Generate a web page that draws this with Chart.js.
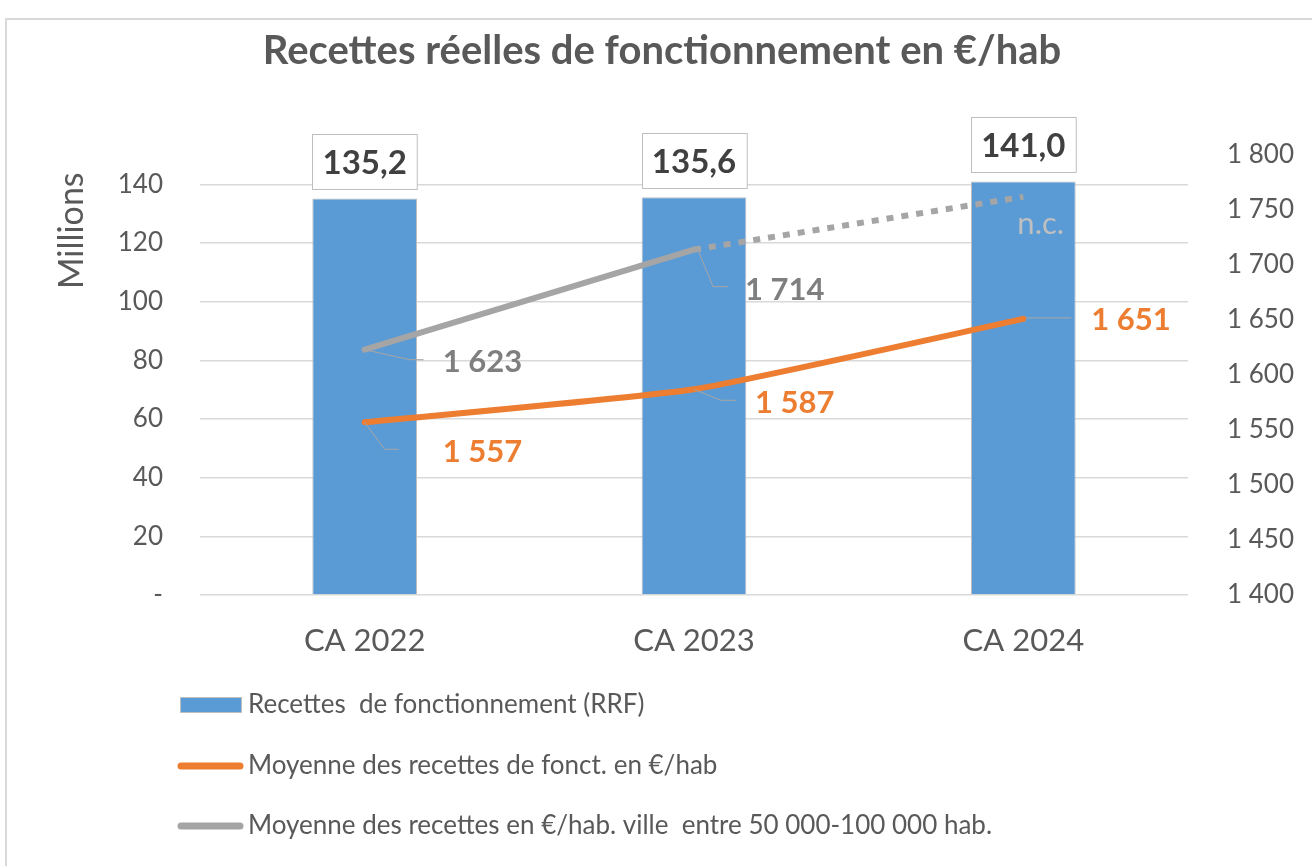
<!DOCTYPE html>
<html lang="fr">
<head>
<meta charset="UTF-8">
<title>Recettes réelles de fonctionnement en €/hab</title>
<script src="https://cdn.jsdelivr.net/npm/chart.js"></script>
<style>
    body { margin: 0; background: #fff; }
    #chart { display: block; }
</style>
</head>
<body>
<canvas id="chart" width="1312" height="866"></canvas>
<script>
// données
const categories = ['CA 2022', 'CA 2023', 'CA 2024'];
const recettes = [135.2, 135.6, 141.0];            // millions d'euros
const moyenneCommune = [1557, 1587, 1651];         // €/hab
const moyenneStrate = [1623, 1714, 1762];          // €/hab (2024 : n.c., point du tracé)
const communeLabels = ['1 557', '1 587', '1 651'];
const strateLabels = ['1 623', '1 714', 'n.c.'];
const leftAxis = { min: 0, max: 150, step: 20 };
const rightAxis = { min: 1400, max: 1800, step: 50 };

const FONT = 'Lato, "Open Sans", sans-serif';
const TEXT = '#595959';
const BLUE = '#5b9bd5', ORANGE = '#ed7d31', GREY = '#a5a5a5';

// position des étiquettes par rapport au point (dx, dy) + trait de rappel
const lineLabelStyle = {
    1: [
        { at: [78, 30], leader: [[0, 0], [20, 27], [34, 27]] },
        { at: [61, 14], leader: [[0, 0], [27, 11], [42, 11]] },
        { at: [68, 1], leader: [[3, -1], [48, -1]] }
    ],
    2: [
        { at: [78, 12], leader: [[0, 0], [45, 10], [59, 10]] },
        { at: [51, 40], leader: [[3, -2], [19, 37], [34, 37]] },
        { at: [-6, 27], leader: null, light: true }
    ]
};

function spaced(v) {
    return String(Math.round(v)).replace(/\B(?=(\d{3})+(?!\d))/g, ' ');
}

const frame = {
    id: 'frame',
    beforeDraw(chart) {
        const ctx = chart.ctx;
        ctx.save();
        ctx.fillStyle = '#fff';
        ctx.fillRect(0, 0, chart.width, chart.height);
        ctx.strokeStyle = '#d9d9d9';
        ctx.lineWidth = 2;
        ctx.strokeRect(6, 19, chart.width + 20, chart.height + 20);
        ctx.restore();
    }
};

const valueLabels = {
    id: 'valueLabels',
    afterDatasetsDraw(chart) {
        const ctx = chart.ctx;
        ctx.save();

        // étiquettes des barres dans un cadre
        chart.getDatasetMeta(0).data.forEach((bar, i) => {
            const w = bar.width, h = 55, bottom = bar.y - 9;
            const x0 = Math.round(bar.x - w / 2) + 0.5, y0 = Math.round(bottom - h) + 0.5;
            ctx.fillStyle = '#fff';
            ctx.fillRect(x0, y0, w, h);
            ctx.strokeStyle = '#bfbfbf';
            ctx.lineWidth = 1;
            ctx.strokeRect(x0, y0, w, h);
            ctx.font = 'bold 33px ' + FONT;
            ctx.fillStyle = '#404040';
            ctx.textAlign = 'center';
            ctx.textBaseline = 'middle';
            ctx.fillText(recettes[i].toFixed(1).replace('.', ','), bar.x, y0 + h / 2 + 1);
        });

        // étiquettes des courbes
        [1, 2].forEach(di => {
            const texts = di === 1 ? communeLabels : strateLabels;
            const color = di === 1 ? ORANGE : '#7f7f7f';
            chart.getDatasetMeta(di).data.forEach((pt, i) => {
                const st = lineLabelStyle[di][i];
                if (st.leader) {
                    ctx.strokeStyle = '#a6a6a6';
                    ctx.lineWidth = 1;
                    ctx.beginPath();
                    st.leader.forEach(([dx, dy], k) => {
                        if (k === 0) ctx.moveTo(pt.x + dx, pt.y + dy);
                        else ctx.lineTo(pt.x + dx, pt.y + dy);
                    });
                    ctx.stroke();
                }
                ctx.textAlign = 'left';
                ctx.textBaseline = 'middle';
                if (st.light) {
                    ctx.font = '31px ' + FONT;
                    ctx.fillStyle = '#bfbfbf';
                } else {
                    ctx.font = 'bold 31px ' + FONT;
                    ctx.fillStyle = color;
                }
                ctx.fillText(texts[i], pt.x + st.at[0], pt.y + st.at[1]);
            });
        });
        ctx.restore();
    }
};

// légende verticale sous le graphique
const stackedLegend = {
    id: 'stackedLegend',
    afterDraw(chart) {
        const ctx = chart.ctx;
        const rows = [705, 766, 826];
        ctx.save();
        chart.data.datasets.forEach((ds, i) => {
            const y = rows[i];
            if (ds.type === 'bar') {
                ctx.fillStyle = ds.backgroundColor;
                ctx.fillRect(180, y - 8, 62, 16);
                ctx.strokeStyle = '#bfbfbf';
                ctx.lineWidth = 1;
                ctx.strokeRect(180.5, y - 7.5, 61, 15);
            } else {
                ctx.strokeStyle = ds.borderColor;
                ctx.lineWidth = 7;
                ctx.lineCap = 'round';
                ctx.beginPath();
                ctx.moveTo(181, y);
                ctx.lineTo(240, y);
                ctx.stroke();
            }
            ctx.font = '26px ' + FONT;
            ctx.fillStyle = TEXT;
            ctx.textAlign = 'left';
            ctx.textBaseline = 'middle';
            ctx.fillText(ds.label, 248, y);
        });
        ctx.restore();
    }
};

const ctx = document.getElementById('chart').getContext('2d');
new Chart(ctx, {
    data: {
        labels: categories,
        datasets: [
            {
                type: 'bar',
                label: 'Recettes  de fonctionnement (RRF)',
                data: recettes,
                yAxisID: 'y',
                backgroundColor: BLUE,
                borderColor: '#bfbfbf',
                borderWidth: 1,
                categoryPercentage: 1,
                barPercentage: 0.318,
                order: 3
            },
            {
                type: 'line',
                label: 'Moyenne des recettes de fonct. en €/hab',
                data: moyenneCommune,
                yAxisID: 'y1',
                borderColor: ORANGE,
                borderWidth: 6,
                borderCapStyle: 'round',
                tension: 0.15,
                pointRadius: 0,
                order: 1
            },
            {
                type: 'line',
                label: 'Moyenne des recettes en €/hab. ville  entre 50 000-100 000 hab.',
                data: moyenneStrate,
                yAxisID: 'y1',
                borderColor: GREY,
                borderWidth: 6,
                borderCapStyle: 'round',
                tension: 0,
                pointRadius: 0,
                segment: {
                    borderDash: c => c.p0DataIndex === 1 ? [7, 8] : undefined,
                    borderCapStyle: c => c.p0DataIndex === 1 ? 'butt' : 'round'
                },
                order: 2
            }
        ]
    },
    options: {
        responsive: false,
        animation: false,
        layout: { padding: { left: 12, right: 0, top: 0, bottom: 0 } },
        plugins: {
            legend: { display: false },
            tooltip: { enabled: false },
            title: {
                display: true,
                text: 'Recettes réelles de fonctionnement en €/hab',
                color: TEXT,
                font: { family: FONT, size: 40, weight: 'bold' },
                padding: { top: 27, bottom: 80 }
            }
        },
        scales: {
            x: {
                grid: { display: false, drawTicks: false },
                border: { display: false },
                ticks: { color: TEXT, font: { family: FONT, size: 31 }, padding: 27 },
                afterFit: s => { s.height = 866 - 595; }
            },
            y: {
                position: 'left',
                min: leftAxis.min,
                max: leftAxis.max,
                grid: { color: '#d9d9d9', lineWidth: 1.5, drawTicks: false },
                border: { display: false },
                ticks: {
                    stepSize: leftAxis.step,
                    includeBounds: false,
                    color: TEXT,
                    font: { family: FONT, size: 26 },
                    padding: 37,
                    callback: v => v === 0 ? '-' : v
                },
                title: {
                    display: true,
                    text: 'Millions  ',
                    align: 'end',
                    color: TEXT,
                    font: { family: FONT, size: 34 },
                    padding: { top: 40, bottom: 0 }
                },
                afterFit: s => { s.width = 200 - 12; }
            },
            y1: {
                position: 'right',
                min: rightAxis.min,
                max: rightAxis.max,
                grid: { display: false, drawTicks: false },
                border: { display: false },
                ticks: {
                    stepSize: rightAxis.step,
                    color: TEXT,
                    font: { family: FONT, size: 26 },
                    padding: 39,
                    callback: v => spaced(v)
                },
                afterFit: s => { s.width = 1312 - 1188; }
            }
        }
    },
    plugins: [frame, valueLabels, stackedLegend]
});
</script>
</body>
</html>
